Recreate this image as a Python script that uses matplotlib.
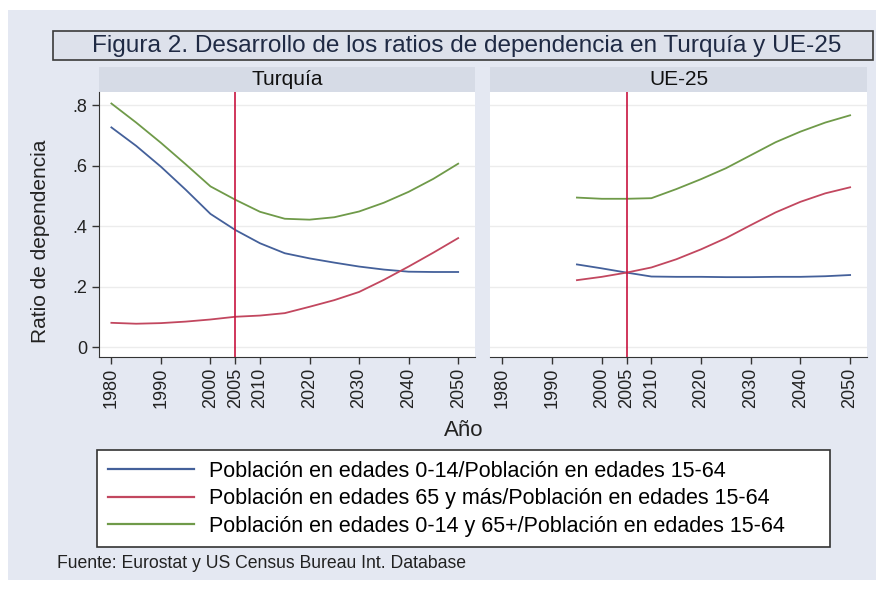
import matplotlib.pyplot as plt
from matplotlib.patches import Rectangle
import numpy as np

plt.rcParams["font.family"] = ["Liberation Sans", "DejaVu Sans"]

# datos
years_tr = [1980, 1985, 1990, 1995, 2000, 2005, 2010, 2015, 2020, 2025, 2030, 2035, 2040, 2045, 2050]
young_tr = [0.726, 0.665, 0.596, 0.520, 0.440, 0.387, 0.343, 0.310, 0.293, 0.279, 0.266, 0.256, 0.249, 0.248, 0.248]
old_tr = [0.080, 0.077, 0.079, 0.084, 0.091, 0.100, 0.104, 0.112, 0.133, 0.155, 0.182, 0.222, 0.266, 0.312, 0.360]
total_tr = [0.805, 0.742, 0.675, 0.604, 0.531, 0.487, 0.447, 0.424, 0.421, 0.429, 0.448, 0.477, 0.513, 0.556, 0.606]

years_eu = [1995, 2000, 2005, 2010, 2015, 2020, 2025, 2030, 2035, 2040, 2045, 2050]
young_eu = [0.273, 0.260, 0.246, 0.233, 0.232, 0.232, 0.231, 0.231, 0.232, 0.232, 0.234, 0.238]
old_eu = [0.221, 0.232, 0.246, 0.263, 0.290, 0.323, 0.360, 0.403, 0.445, 0.480, 0.508, 0.528]
total_eu = [0.494, 0.490, 0.490, 0.492, 0.522, 0.555, 0.591, 0.634, 0.677, 0.712, 0.742, 0.766]

panels = ["Turquía", "UE-25"]
series_labels = [
    "Población en edades 0-14/Población en edades 15-64",
    "Población en edades 65 y más/Población en edades 15-64",
    "Población en edades 0-14 y 65+/Población en edades 15-64",
]
xticks = [1980, 1990, 2000, 2005, 2010, 2020, 2030, 2040, 2050]
yticks = [0, 0.2, 0.4, 0.6, 0.8]
ytick_labels = ["0", ".2", ".4", ".6", ".8"]
ref_year = 2005

colors = ["#44609a", "#c2475f", "#6f9a49"]
vline_color = "#c8143f"
bg = "#e4e8f2"
strip_bg = "#d6dbe6"

W, H = 883, 589
fig = plt.figure(figsize=(W / 100, H / 100), dpi=100)
fig.patch.set_facecolor("white")

def fx(px):
    return px / W

def fy(py):
    return 1 - py / H

# fondo gris azulado
fig.patches.append(Rectangle((fx(8), fy(580)), fx(876 - 8), (580 - 10) / H,
                             transform=fig.transFigure, facecolor=bg, edgecolor="none", zorder=-10))

# caja del titulo
fig.patches.append(Rectangle((fx(53), fy(60)), fx(873 - 53), (60 - 31) / H,
                             transform=fig.transFigure, facecolor="#dde1eb", edgecolor="#3a3a3a",
                             linewidth=1.2, zorder=-5))
fig.text(fx(467), fy(46), "Figura 2. Desarrollo de los ratios de dependencia en Turquía y UE-25",
         ha="center", va="center", fontsize=17.6, color="#1f2a44")

data = [
    (years_tr, [young_tr, old_tr, total_tr]),
    (years_eu, [young_eu, old_eu, total_eu]),
]
lefts = [99, 490]
rights = [475, 867]
top, bottom = 92, 357

axes = []
for k in range(2):
    ax = fig.add_axes([fx(lefts[k]), fy(bottom), fx(rights[k] - lefts[k]), (bottom - top) / H])
    ax.set_facecolor("white")
    yrs, vals = data[k]
    handles = []
    for v, c, lab in zip(vals, colors, series_labels):
        h, = ax.plot(yrs, v, color=c, linewidth=1.3, label=lab)
        handles.append(h)
    ax.axvline(ref_year, color=vline_color, linewidth=1.2)
    ax.set_xlim(1977.5, 2053.4)
    ax.set_ylim(-0.033, 0.843)
    ax.set_xticks(xticks)
    ax.set_xticklabels([str(x) for x in xticks], rotation=90, fontsize=13, color="#222222")
    ax.set_yticks(yticks)
    ax.grid(axis="y", color="#ececec", linewidth=1)
    ax.set_axisbelow(True)
    for s in ["top", "right"]:
        ax.spines[s].set_visible(False)
    ax.spines["bottom"].set_color("#333333")
    ax.spines["left"].set_color("#333333")
    ax.tick_params(axis="x", length=5, width=1, color="#333333", pad=3)
    if k == 0:
        ax.set_yticklabels(ytick_labels, fontsize=13, color="#222222")
        ax.tick_params(axis="y", length=5, width=1, color="#333333")
    else:
        ax.spines["left"].set_visible(False)
        ax.tick_params(axis="y", length=0, labelleft=False)
    axes.append(ax)

    # franja con el nombre del panel
    fig.patches.append(Rectangle((fx(lefts[k]), fy(top)), fx(rights[k] - lefts[k]), (top - 67) / H,
                                 transform=fig.transFigure, facecolor=strip_bg, edgecolor="none", zorder=-5))
    fig.text(fx((lefts[k] + rights[k]) / 2), fy(79.5), panels[k], ha="center", va="center",
             fontsize=15, color="#111111")

fig.text(fx(41), fy(241), "Ratio de dependencia", rotation=90, ha="center", va="center",
         fontsize=15, color="#222222")
fig.text(fx(464), fy(431), "Año", ha="center", va="center", fontsize=16, color="#222222")

leg = fig.legend(handles, series_labels, loc="upper left",
                 bbox_to_anchor=(fx(97), fy(545), fx(830 - 97), (545 - 450) / H),
                 mode="expand", fontsize=15.5, frameon=True, fancybox=False,
                 facecolor="white", framealpha=1,
                 edgecolor="#333333", handlelength=4.0, handletextpad=0.7,
                 labelspacing=0.3, borderaxespad=0, borderpad=0.5)
leg.get_frame().set_linewidth(1.2)
for line in leg.get_lines():
    line.set_linewidth(1.6)

fig.text(fx(57), fy(564), "Fuente: Eurostat y US Census Bureau Int. Database",
         ha="left", va="center", fontsize=12.7, color="#222222")

fig.savefig("out.png", dpi=100, facecolor=fig.get_facecolor())
